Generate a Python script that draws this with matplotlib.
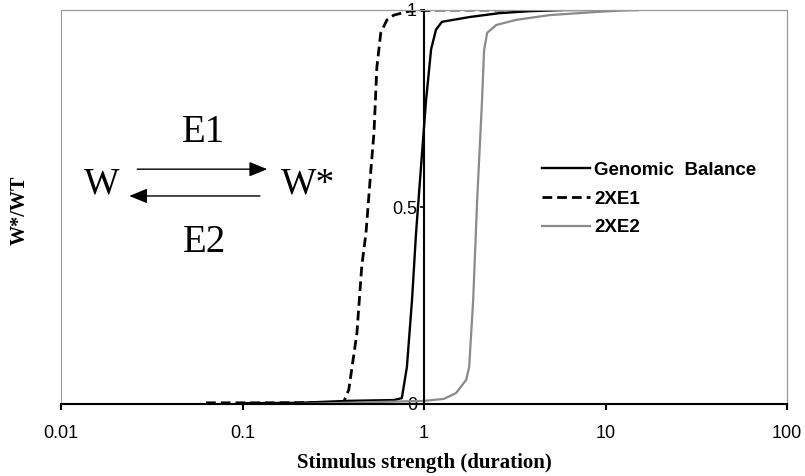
import numpy as np
import matplotlib
matplotlib.use("Agg")
import matplotlib.pyplot as plt
from matplotlib.patches import Rectangle
from matplotlib.ticker import FixedLocator, FixedFormatter, NullLocator

# valeurs
x_ticks = [0.01, 0.1, 1, 10, 100]
x_tick_labels = ["0.01", "0.1", "1", "10", "100"]
y_ticks = [0, 0.5, 1]
y_tick_labels = ["0", "0.5", "1"]

# Genomic Balance
gb_x = [0.1, 0.204, 0.385, 0.682, 0.755, 0.805, 0.859, 0.904, 0.962, 1.026, 1.094,
        1.164, 1.256, 1.774, 2.594, 3.80, 6.0, 15.0]
gb_y = [0.002, 0.003, 0.008, 0.010, 0.015, 0.094, 0.264, 0.434, 0.60, 0.77, 0.90,
        0.95, 0.97, 0.982, 0.992, 0.997, 1.0, 1.0]

# 2XE1
e1_x = [0.063, 0.15, 0.30, 0.361, 0.385, 0.427, 0.454, 0.479, 0.509, 0.530, 0.550,
        0.578, 0.625, 0.682, 0.826, 1.2, 3.0]
e1_y = [0.003, 0.003, 0.004, 0.005, 0.036, 0.18, 0.35, 0.434, 0.59, 0.688, 0.855,
        0.942, 0.975, 0.987, 0.997, 1.0, 1.0]

# 2XE2
e2_x = [0.2, 1.0, 1.288, 1.503, 1.706, 1.774, 1.866, 1.963, 2.089, 2.143, 2.228,
        2.5, 3.22, 4.91, 8.91, 13.6]
e2_y = [0.0, 0.008, 0.013, 0.028, 0.061, 0.094, 0.264, 0.518, 0.772, 0.898, 0.942,
        0.962, 0.975, 0.987, 0.995, 1.0]

sans = ["Liberation Sans", "DejaVu Sans"]
serif = ["Liberation Serif", "DejaVu Serif"]

fig = plt.figure(figsize=(8.05, 4.76), dpi=100)
ax = fig.add_axes([61 / 805, 72 / 476, 726 / 805, 394 / 476])

ax.plot(gb_x, gb_y, color="black", lw=1.7, label="Genomic  Balance")
ax.plot(e1_x, e1_y, color="black", lw=2.0, dashes=(3.5, 1.8), label="2XE1")
ax.plot(e2_x, e2_y, color="#8a8a8a", lw=1.6, label="2XE2")

ax.set_xscale("log")
ax.set_xlim(0.01, 100)
ax.set_ylim(0, 1)

# axes en croix : y en x=1, x en y=0
ax.spines["left"].set_position(("data", 1))
ax.spines["left"].set_color("black")
ax.spines["left"].set_linewidth(1.5)
ax.spines["bottom"].set_color("black")
ax.spines["bottom"].set_linewidth(1.5)
for s in ["top", "right"]:
    ax.spines[s].set_color("#999999")
    ax.spines[s].set_linewidth(0.8)
ax.add_patch(Rectangle((0, 0), 1, 1, transform=ax.transAxes, fill=False,
                       ec="#999999", lw=0.8, clip_on=False, zorder=0))

ax.xaxis.set_major_locator(FixedLocator(x_ticks))
ax.xaxis.set_major_formatter(FixedFormatter(x_tick_labels))
ax.xaxis.set_minor_locator(NullLocator())
ax.yaxis.set_major_locator(FixedLocator(y_ticks))
ax.yaxis.set_major_formatter(FixedFormatter(y_tick_labels))
ax.tick_params(axis="x", direction="out", length=4, width=1.5, pad=11,
               labelsize=13, color="black")
ax.tick_params(axis="y", direction="out", length=3, width=1.2, pad=2,
               labelsize=13, color="black")
for lab in ax.get_xticklabels() + ax.get_yticklabels():
    lab.set_family(sans)

ax.set_xlabel("Stimulus strength (duration)", family=serif, fontweight="bold",
              fontsize=15, labelpad=8)
fig.text(20 / 805, 1 - 210 / 476, "W*/WT", family=serif, fontweight="bold",
         fontsize=14.5, rotation=90, ha="center", va="center")

# schéma de réaction
ax.text(0.056, 0.558, "W", family=serif, fontsize=27, ha="center", va="center",
        transform=ax.transAxes)
ax.text(0.340, 0.558, "W*", family=serif, fontsize=27, ha="center", va="center",
        transform=ax.transAxes)
ax.text(0.196, 0.690, "E1", family=serif, fontsize=28, ha="center", va="center",
        transform=ax.transAxes)
ax.text(0.198, 0.411, "E2", family=serif, fontsize=28, ha="center", va="center",
        transform=ax.transAxes)
arrow = dict(arrowstyle="-|>,head_length=1.1,head_width=0.45", color="black", lw=1,
             shrinkA=0, shrinkB=0)
ax.annotate("", xy=(0.284, 0.596), xytext=(0.105, 0.596), xycoords="axes fraction",
            textcoords="axes fraction", arrowprops=arrow)
ax.annotate("", xy=(0.094, 0.528), xytext=(0.274, 0.528), xycoords="axes fraction",
            textcoords="axes fraction", arrowprops=arrow)

leg = ax.legend(loc="upper left", bbox_to_anchor=(0.662, 0.615), frameon=False,
                prop={"family": sans, "weight": "bold", "size": 13.5},
                handlelength=2.6, handletextpad=0.2, labelspacing=0.62,
                borderpad=0, borderaxespad=0)

fig.savefig("out.png", dpi=100)
